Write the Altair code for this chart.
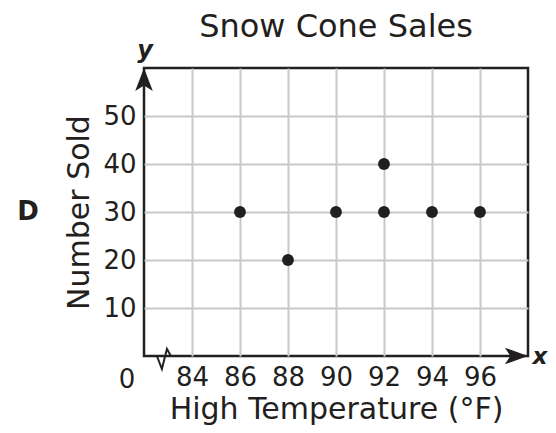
import altair as alt
import pandas as pd

temps = [86, 88, 90, 92, 92, 94, 96]
sold = [30, 20, 30, 30, 40, 30, 30]
x_ticks = [84, 86, 88, 90, 92, 94, 96]
y_ticks = [10, 20, 30, 40, 50]

FONT = "DejaVu Sans"
INK = "#231f20"
GRID = "#c8c8c8"

df = pd.DataFrame({"temp": temps, "sold": sold})
one = pd.DataFrame({"k": [0]})

xs = alt.Scale(domain=[82, 98], nice=False, zero=False)
ys = alt.Scale(domain=[0, 60], nice=False)

points = alt.Chart(df).mark_circle(size=140, color=INK, opacity=1).encode(
    x=alt.X("temp:Q", scale=xs, axis=alt.Axis(
        values=x_ticks, grid=True, gridColor=GRID, gridWidth=2, domain=False, ticks=False,
        labelFontSize=26, labelFont=FONT, labelColor=INK, labelPadding=8,
        title="High Temperature (°F)", titleFont=FONT, titleFontSize=30,
        titleFontWeight="normal", titleColor=INK, titlePadding=4)),
    y=alt.Y("sold:Q", scale=ys, axis=alt.Axis(
        values=y_ticks, grid=True, gridColor=GRID, gridWidth=2, domain=False, ticks=False,
        labelFontSize=26, labelFont=FONT, labelColor=INK, labelPadding=8,
        title="Number Sold", titleFont=FONT, titleFontSize=30,
        titleFontWeight="normal", titleColor=INK, titlePadding=8)),
)

def pt(shape, size, xv, yv):
    return alt.Chart(one).mark_point(
        shape=shape, size=size, filled=True, color=INK, opacity=1,
        strokeWidth=0, fillOpacity=1,
    ).encode(x=alt.datum(xv, scale=xs), y=alt.datum(yv, scale=ys))

y_arrow = pt("M0,0 L-0.8,2.1 L0,1.6 L0.8,2.1 Z", 484, 82, 60)
x_arrow = pt("M0,0 L-2.1,-0.75 L-1.6,0 L-2.1,0.75 Z", 484, 98, 0)
brk = alt.Chart(one).mark_point(
    shape="M-1,0 L-0.29,1.86 L0.43,-1 L1,0", size=196, filled=False,
    color=INK, strokeWidth=2, opacity=1,
).encode(x=alt.datum(82.83, scale=xs), y=alt.datum(0, scale=ys))

def txt(label, xv, yv, dx=0, dy=0, size=26, weight="normal", style="normal"):
    return alt.Chart(one).mark_text(
        text=label, font=FONT, fontSize=size, fontWeight=weight, fontStyle=style,
        color=INK, dx=dx, dy=dy, align="center", baseline="middle",
    ).encode(x=alt.datum(xv, scale=xs), y=alt.datum(yv, scale=ys))

zero_lbl = txt("0", 82, 0, dx=-17, dy=24)
y_lbl = txt("y", 82, 60, dx=1, dy=-17, size=24, weight="bold", style="italic")
x_lbl = txt("x", 98, 0, dx=12, dy=1, size=23, weight="bold", style="italic")
d_lbl = alt.Chart(one).mark_text(
    text="D", font=FONT, fontSize=26, fontWeight="bold", color=INK,
    align="center", baseline="middle",
).encode(x=alt.value(-116), y=alt.datum(30, scale=ys))

chart = alt.layer(
    points, brk, y_arrow, x_arrow, zero_lbl, y_lbl, x_lbl, d_lbl
).properties(
    width=384, height=288,
    title=alt.TitleParams("Snow Cone Sales", font=FONT, fontSize=32,
                          fontWeight="normal", color=INK, offset=-5, anchor="middle"),
    autosize=alt.AutoSizeParams(type="none"),
    padding={"left": 136, "top": 60, "right": 20, "bottom": 69},
).configure_view(stroke=INK, strokeWidth=2.5)

chart.save("out.html", embed_options={"renderer": "svg", "actions": False})
